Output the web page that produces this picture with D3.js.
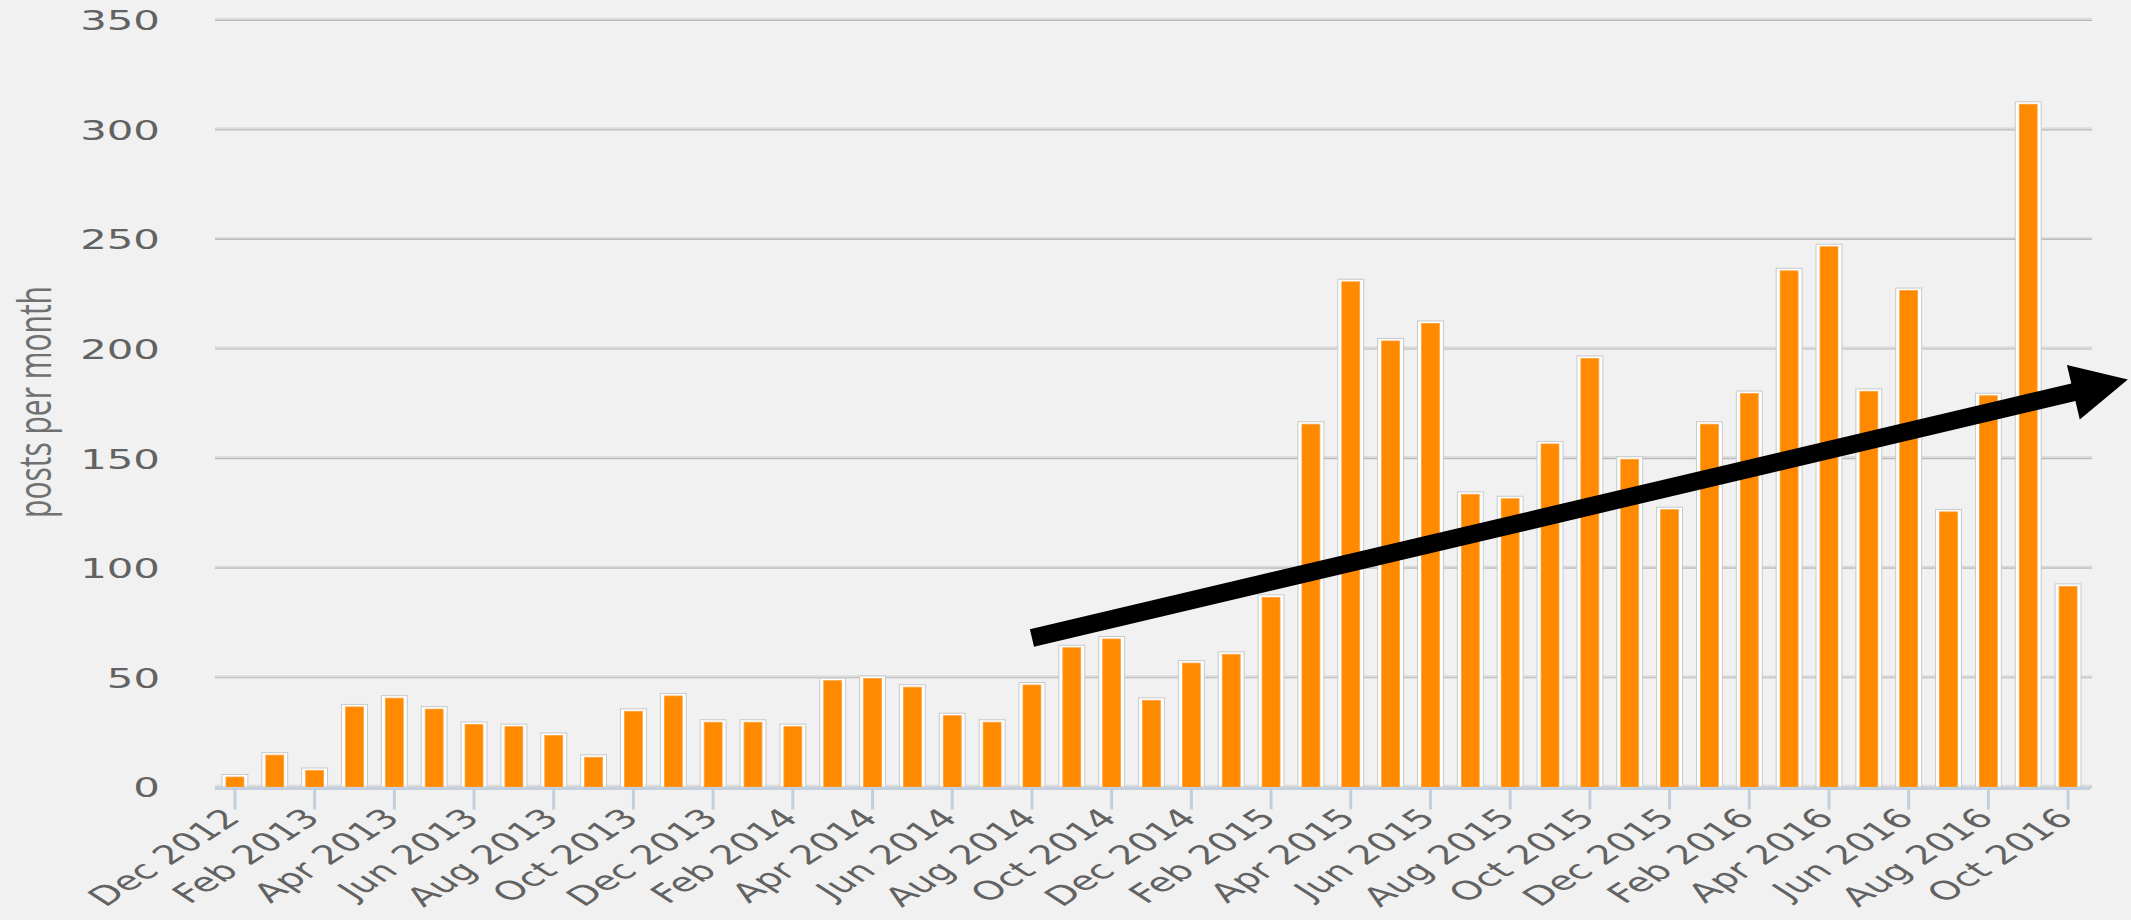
<!DOCTYPE html>
<html>
<head>
<meta charset="utf-8">
<script src="https://cdn.jsdelivr.net/npm/d3@7"></script>
<style>
  html, body { margin: 0; padding: 0; background: #f1f1f1; }
  svg { display: block; }
</style>
</head>
<body>
<svg id="chart" width="2131" height="920"></svg>
<script>
// Monthly post counts, Dec 2012 – Oct 2016
const months = [
  "Dec 2012","Jan 2013","Feb 2013","Mar 2013","Apr 2013","May 2013","Jun 2013","Jul 2013",
  "Aug 2013","Sep 2013","Oct 2013","Nov 2013","Dec 2013","Jan 2014","Feb 2014","Mar 2014",
  "Apr 2014","May 2014","Jun 2014","Jul 2014","Aug 2014","Sep 2014","Oct 2014","Nov 2014",
  "Dec 2014","Jan 2015","Feb 2015","Mar 2015","Apr 2015","May 2015","Jun 2015","Jul 2015",
  "Aug 2015","Sep 2015","Oct 2015","Nov 2015","Dec 2015","Jan 2016","Feb 2016","Mar 2016",
  "Apr 2016","May 2016","Jun 2016","Jul 2016","Aug 2016","Sep 2016","Oct 2016"
];
const posts = [
  5, 15, 8, 37, 41, 36, 29, 28,
  24, 14, 35, 42, 30, 30, 28, 49,
  50, 46, 33, 30, 47, 64, 68, 40,
  57, 61, 87, 166, 231, 204, 212, 134,
  132, 157, 196, 150, 127, 166, 180, 236,
  247, 181, 227, 126, 179, 312, 92
];
const yTicks = [0, 50, 100, 150, 200, 250, 300, 350];
const xTickLabels = [
  "Dec 2012","Feb 2013","Apr 2013","Jun 2013","Aug 2013","Oct 2013","Dec 2013",
  "Feb 2014","Apr 2014","Jun 2014","Aug 2014","Oct 2014","Dec 2014",
  "Feb 2015","Apr 2015","Jun 2015","Aug 2015","Oct 2015","Dec 2015",
  "Feb 2016","Apr 2016","Jun 2016","Aug 2016","Oct 2016"
];
const axisTitle = "posts per month";
// Trend arrow, in (month index, posts) coordinates
const trendStart = [20, 68];
const trendEnd = [47.5, 186];

// ---- layout ----
const plotLeft = 215, plotRight = 2088, plotTop = 20, plotBottom = 787;
const SX = 1.55;           // horizontal stretch applied to all text
const textColor = "#626262";

const svg = d3.select("#chart");

const x = d3.scaleBand()
  .domain(months)
  .range([plotLeft, plotRight])
  .paddingInner(0.35)
  .paddingOuter(0.175);
const xIdx = d3.scaleLinear().domain([-0.5, months.length - 0.5]).range([plotLeft, plotRight]);
const y = d3.scaleLinear().domain([0, 350]).range([plotBottom, plotTop]);

// gridlines (two-tone)
const grid = svg.append("g");
grid.selectAll("line.hi").data(yTicks).join("line").attr("class", "hi")
  .attr("x1", plotLeft).attr("x2", plotRight + 4)
  .attr("y1", d => y(d) - 1.2).attr("y2", d => y(d) - 1.2)
  .attr("stroke", "#dcdcdc").attr("stroke-width", 2);
grid.selectAll("line.lo").data(yTicks).join("line").attr("class", "lo")
  .attr("x1", plotLeft).attr("x2", plotRight + 4)
  .attr("y1", d => y(d) + 0.3).attr("y2", d => y(d) + 0.3)
  .attr("stroke", "#b8b8b8").attr("stroke-width", 1.2);

// y axis labels
const gy = svg.append("g")
  .attr("transform", `translate(${plotLeft},0)`)
  .call(d3.axisLeft(y).tickValues(yTicks).tickSize(0).tickPadding(0));
gy.select(".domain").remove();
gy.selectAll("text")
  .attr("x", null).attr("dy", "0.36em")
  .attr("transform", `translate(-55,0) scale(${SX},1)`)
  .style("font-family", "'DejaVu Sans', Verdana, sans-serif")
  .style("font-size", "27px")
  .attr("fill", textColor);

// bars: white framed box with orange fill
const bars = svg.append("g");
const bw = x.bandwidth();
bars.selectAll("rect.frame").data(posts).join("rect").attr("class", "frame")
  .attr("x", (d, i) => x(months[i]))
  .attr("y", d => y(d) - 1.5)
  .attr("width", bw)
  .attr("height", d => plotBottom - y(d) + 1.5)
  .attr("fill", "#ffffff")
  .attr("stroke", "#c9c9c9").attr("stroke-width", 1);
bars.selectAll("rect.fill").data(posts).join("rect").attr("class", "fill")
  .attr("x", (d, i) => x(months[i]) + 4)
  .attr("y", d => y(d) + 1)
  .attr("width", bw - 8)
  .attr("height", d => plotBottom - y(d) - 1)
  .attr("fill", "#ff8a00")
  .attr("stroke", "#ffa13a").attr("stroke-width", 0.8);

// x axis
const gx = svg.append("g")
  .attr("transform", `translate(0,${plotBottom + 1.5})`)
  .call(d3.axisBottom(x).tickValues(xTickLabels).tickSize(21).tickPadding(0).tickSizeOuter(0));
gx.select(".domain")
  .attr("d", `M${plotLeft},0H${plotRight + 2}`)
  .attr("stroke", "#c4d0dd").attr("stroke-width", 3);
gx.selectAll(".tick line")
  .attr("stroke", "#c2cedb").attr("stroke-width", 3);
gx.selectAll("text")
  .attr("y", null).attr("dy", null)
  .attr("transform", `translate(7,31) scale(${SX},1) rotate(-45)`)
  .style("text-anchor", "end")
  .style("font-family", "'DejaVu Sans', Verdana, sans-serif")
  .style("font-size", "26px")
  .attr("fill", textColor);

// y axis title
svg.append("text")
  .attr("transform", `translate(51,402) scale(${SX},1) rotate(-90)`)
  .attr("text-anchor", "middle")
  .style("font-family", "'Open Sans', sans-serif")
  .style("font-size", "30px")
  .attr("fill", "#707070")
  .text(axisTitle);

// trend arrow
const p0 = [xIdx(trendStart[0]), y(trendStart[1])];
const p1 = [xIdx(trendEnd[0]), y(trendEnd[1])];
const ddx = p1[0] - p0[0], ddy = p1[1] - p0[1];
const len = Math.hypot(ddx, ddy);
const ux = ddx / len, uy = ddy / len, nx = -uy, ny = ux;
const headLen = 56, headHalf = 28, shaftHalf = 9;
const base = [p1[0] - ux * headLen, p1[1] - uy * headLen];
const pts = [
  [p0[0] + nx * shaftHalf, p0[1] + ny * shaftHalf],
  [base[0] + nx * shaftHalf, base[1] + ny * shaftHalf],
  [base[0] + nx * headHalf, base[1] + ny * headHalf],
  p1,
  [base[0] - nx * headHalf, base[1] - ny * headHalf],
  [base[0] - nx * shaftHalf, base[1] - ny * shaftHalf],
  [p0[0] - nx * shaftHalf, p0[1] - ny * shaftHalf]
];
svg.append("path")
  .attr("d", d3.line()(pts) + "Z")
  .attr("fill", "#000");
</script>
</body>
</html>
